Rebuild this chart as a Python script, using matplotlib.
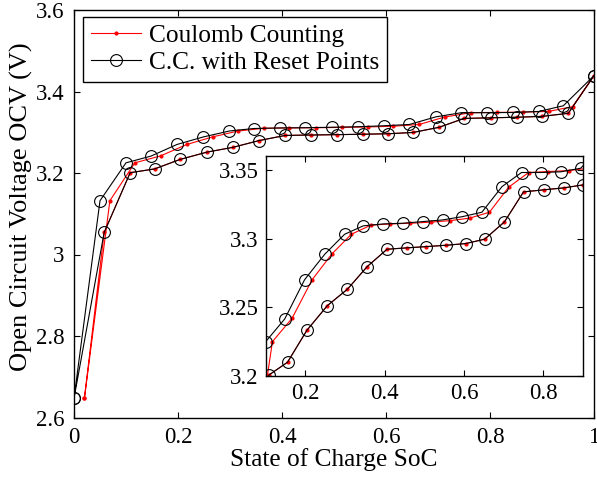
import matplotlib
matplotlib.use('Agg')
import matplotlib.pyplot as plt

plt.rcParams['font.family'] = ['Liberation Serif', 'DejaVu Serif']
plt.rcParams['font.size'] = 16.5

# charge branch (upper) and discharge branch (lower)
x_up_reset = [0, 0.05, 0.1, 0.148, 0.198, 0.249, 0.299, 0.346, 0.396, 0.445, 0.496,
              0.546, 0.596, 0.645, 0.696, 0.745, 0.794, 0.844, 0.894, 0.941, 1.0]
y_up_reset = [2.647, 3.132, 3.225, 3.2415, 3.270, 3.2886, 3.3031, 3.3092, 3.3106, 3.3111, 3.3123,
              3.3135, 3.3159, 3.3191, 3.3378, 3.348, 3.348, 3.3485, 3.3511, 3.365, 3.439]

x_up_cc = [0.02, 0.069, 0.117, 0.1665, 0.217, 0.267, 0.316, 0.365, 0.414, 0.465, 0.516,
           0.5655, 0.614, 0.664, 0.7125, 0.763, 0.813, 0.864, 0.913, 0.959, 1.0]
y_up_cc = [2.647, 3.132, 3.225, 3.242, 3.270, 3.2888, 3.3031, 3.3097, 3.3106, 3.3111, 3.3119,
           3.313, 3.3148, 3.3191, 3.3373, 3.348, 3.3487, 3.3494, 3.3511, 3.363, 3.439]

x_down = [1.0, 0.9506, 0.9006, 0.851, 0.801, 0.750, 0.702, 0.652, 0.604, 0.555, 0.505,
          0.456, 0.406, 0.356, 0.306, 0.2555, 0.204, 0.155, 0.108, 0.058]
y_down = [3.439, 3.3465, 3.339, 3.3368, 3.3354, 3.3339, 3.3121, 3.2995, 3.2963, 3.2951, 3.2941,
          3.2932, 3.2922, 3.2796, 3.2631, 3.2512, 3.2333, 3.2100, 3.2007, 3.054]

x_cc = x_up_cc + x_down + [0.02]
y_cc = y_up_cc + y_down + [2.647]
x_reset = x_up_reset + x_down + [0]
y_reset = y_up_reset + y_down + [2.647]

W, H = 597, 479
fig = plt.figure(figsize=(W / 100, H / 100), dpi=100)
ax = fig.add_axes([74 / W, 1 - 417.5 / H, 520 / W, 407.5 / H])


def draw(a):
    a.plot(x_cc, y_cc, color='red', lw=0.8, marker='.', ms=4, label='Coulomb Counting')
    a.plot(x_reset, y_reset, color='black', lw=0.8, marker='o', ms=8.5, mfc='none',
           mew=0.8, label='C.C. with Reset Points')
    a.tick_params(direction='in', top=True, right=True, length=4, width=0.8, pad=7)
    for s in a.spines.values():
        s.set_linewidth(1.0)


draw(ax)
ax.set_xlim(0, 1)
ax.set_ylim(2.6, 3.6)
ax.set_xticks([0, 0.2, 0.4, 0.6, 0.8, 1])
ax.set_xticklabels(['0', '0.2', '0.4', '0.6', '0.8', '1'])
ax.set_yticks([2.6, 2.8, 3.0, 3.2, 3.4, 3.6])
ax.set_yticklabels(['2.6', '2.8', '3', '3.2', '3.4', '3.6'])
ax.set_xlabel('State of Charge SoC', fontsize=18.3, labelpad=0)
ax.set_ylabel('Open Circuit Voltage OCV (V)', fontsize=19)
ax.yaxis.set_label_coords(-0.078, 0.518)

leg = ax.legend(loc='upper left', bbox_to_anchor=(0.0173, 0.983), borderaxespad=0,
                fancybox=False, edgecolor='black', framealpha=1, handlelength=2.0,
                handletextpad=0.3, labelspacing=0.15, borderpad=0.3, fontsize=18.3)
leg.get_frame().set_linewidth(1.0)

ins = fig.add_axes([265.7 / W, 1 - 376 / H, 317.3 / W, 220 / H])
draw(ins)
ins.tick_params(pad=5)
ins.set_xlim(0.1, 0.9)
ins.set_ylim(3.2, 3.36)
ins.set_xticks([0.2, 0.4, 0.6, 0.8])
ins.set_xticklabels(['0.2', '0.4', '0.6', '0.8'])
ins.set_yticks([3.2, 3.25, 3.3, 3.35])
ins.set_yticklabels(['3.2', '3.25', '3.3', '3.35'])

fig.savefig('out.png', dpi=100)
